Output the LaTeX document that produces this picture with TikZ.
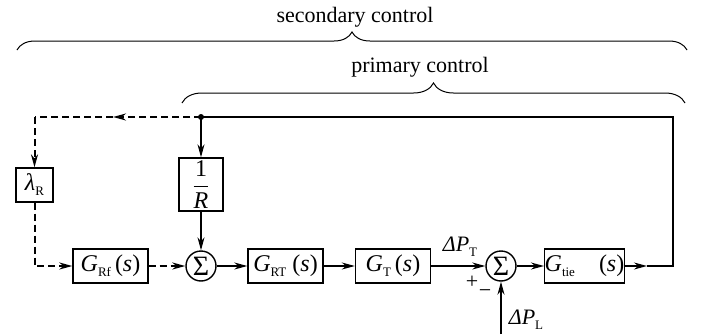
\documentclass[tikz,border=0pt]{standalone}
\usepackage{fontspec}
\setmainfont{Liberation Serif}
\usetikzlibrary{arrows.meta}
\usetikzlibrary{decorations.pathreplacing}

% small upright index set low, as in G_Rf
\newcommand{\low}[1]{\raisebox{-0.45ex}{\fontsize{6.5}{7}\selectfont #1}}

\tikzset{
  block/.style = {draw, line width=0.7pt, minimum width=37.5pt, minimum height=17pt, inner sep=0pt,
                  font=\fontsize{12}{14}\selectfont},
  sumnode/.style = {draw, circle, line width=0.7pt, minimum size=15pt, inner sep=0pt,
                    font=\fontsize{14}{14}\selectfont},
  sig/.style = {line width=0.7pt, -{Stealth[length=6.5pt,width=3.5pt]}},
  wire/.style = {line width=0.7pt},
  secwire/.style = {line width=1pt, dash pattern=on 3.5pt off 2pt},
}

\begin{document}
\begin{tikzpicture}[x=0.5pt, y=0.5pt, font=\fontsize{11}{13}\selectfont]
    \useasboundingbox (0,0) rectangle (709,334);

    % forward path
    \node [block] (grf) at (110.5,68) {\textit{G}\low{Rf}\,(\textit{s})};
    \node [sumnode] (sum1) at (201,68) {Σ};
    \node [block] (grt) at (285.5,68) {\textit{G}\low{RT} (\textit{s})};
    \node [block] (gt) at (393,68) {\textit{G}\low{T}\,(\textit{s})};
    \node [sumnode] (sum2) at (501,68) {Σ};
    \node [block] (gtie) at (584.5,68) {\textit{G}\low{tie}\quad(\textit{s})};

    % feedback blocks
    \node [block, minimum width=18.5pt] (lam) at (34.5,149) {\textit{λ}\low{R}};
    \node [block, minimum width=22pt, minimum height=26.5pt] (invr) at (201,149.5)
        {$\displaystyle\frac{\mbox{1}}{\mbox{\textit{R}}}$};

    \coordinate (out) at (647,68);
    \coordinate (corner) at (673,68);
    \coordinate (tap) at (201,217);
    \coordinate (back) at (113,217);
    \coordinate (lamtop) at (34.5,217);
    \coordinate (load) at (501,0);

    % primary loop
    \draw [sig] (sum1) -- (grt);
    \draw [sig] (grt) -- (gt);
    \draw [sig] (gt) -- (sum2);
    \draw [sig] (sum2) -- (gtie);
    \draw [sig] (gtie) -- (out);
    \draw [wire] (out) -- (corner) |- (tap);
    \fill (tap) circle (1.5pt);
    \draw [sig] (tap) -- (invr);
    \draw [sig] (invr) -- (sum1);
    \draw [sig] (load) -- (sum2);

    % secondary loop (dashed)
    \draw [sig, secwire] (tap) -- (back);
    \draw [secwire] (back) -- (lamtop);
    \draw [sig, secwire] (lamtop) -- (lam);
    \draw [sig, secwire] (lam) |- (grf);
    \draw [sig, secwire] (grf) -- (sum1);

    % signal labels
    \node (dpt) at (460,87) {\textit{ΔP}\low{T}};
    \node (plus) at (472,52) {+};
    \node (minus) at (485,40) {−};
    \node (dpl) at (526,14) {\textit{ΔP}\low{L}};

    % braces
    \draw [line width=0.5pt, decorate, decoration={brace, amplitude=9pt}] (17,284) -- (687,284);
    \node (sec) at (355,317) {secondary control};
    \draw [line width=0.5pt, decorate, decoration={brace, amplitude=10pt}] (182,231) -- (685,231);
    \node (prim) at (420,267) {primary control};
\end{tikzpicture}
\end{document}
